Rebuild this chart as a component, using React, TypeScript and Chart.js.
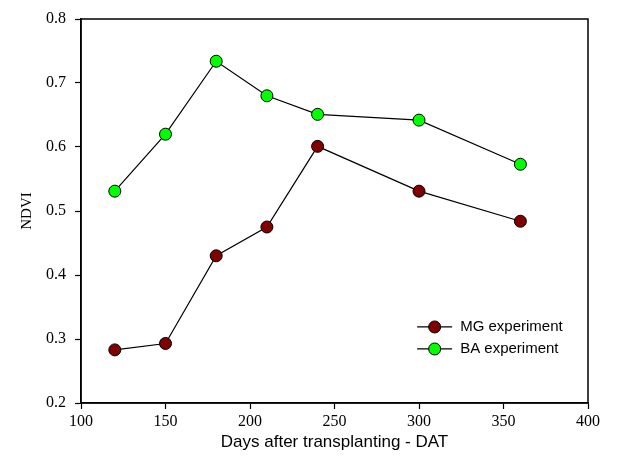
import React, { useEffect, useRef } from "react";
import { Chart, registerables } from "chart.js";

Chart.register(...registerables);

const days = [120, 150, 180, 210, 240, 300, 360];
const mgValues = [0.283, 0.293, 0.43, 0.475, 0.601, 0.531, 0.484];
const baValues = [0.531, 0.62, 0.734, 0.68, 0.651, 0.642, 0.573];
const seriesLabels = ["MG experiment", "BA experiment"];
const xTitle = "Days after transplanting - DAT";
const yTitle = "NDVI";

const frameLegendPlugin = {
  id: "frameLegend",
  afterDatasetsDraw(chart: any) {
    const { ctx, chartArea } = chart;
    ctx.save();
    ctx.strokeStyle = "#000";
    ctx.lineWidth = 1.5;
    ctx.strokeRect(chartArea.left, chartArea.top, chartArea.right - chartArea.left, chartArea.bottom - chartArea.top);
    // legend
    const lx = chartArea.left + (chartArea.right - chartArea.left) * 0.663;
    const ly = chartArea.top + (chartArea.bottom - chartArea.top) * 0.802;
    chart.data.datasets.forEach((ds: any, i: number) => {
      const y = ly + i * 22;
      ctx.strokeStyle = "#000";
      ctx.lineWidth = 1.2;
      ctx.beginPath();
      ctx.moveTo(lx, y);
      ctx.lineTo(lx + 35, y);
      ctx.stroke();
      ctx.beginPath();
      ctx.arc(lx + 17.5, y, 6, 0, Math.PI * 2);
      ctx.fillStyle = ds.pointBackgroundColor;
      ctx.fill();
      ctx.lineWidth = 1;
      ctx.stroke();
      ctx.fillStyle = "#000";
      ctx.font = "15px 'Liberation Sans', Arial, sans-serif";
      ctx.textBaseline = "middle";
      ctx.textAlign = "left";
      ctx.fillText(ds.label, lx + 43, y);
    });
    ctx.restore();
  },
};

export default function App() {
  const ref = useRef<HTMLCanvasElement>(null);
  useEffect(() => {
    if (!ref.current) return;
    const tickFont = { family: "'Liberation Serif', 'Times New Roman', serif", size: 16 };
    const chart = new Chart(ref.current, {
      type: "line",
      data: {
        datasets: [
          {
            label: seriesLabels[0],
            data: days.map((d, i) => ({ x: d, y: mgValues[i] })),
            borderColor: "#000",
            borderWidth: 1.2,
            pointBackgroundColor: "#800000",
            pointBorderColor: "#000",
            pointBorderWidth: 1,
            pointRadius: 6,
            tension: 0,
          },
          {
            label: seriesLabels[1],
            data: days.map((d, i) => ({ x: d, y: baValues[i] })),
            borderColor: "#000",
            borderWidth: 1.2,
            pointBackgroundColor: "#00ff00",
            pointBorderColor: "#000",
            pointBorderWidth: 1,
            pointRadius: 6,
            tension: 0,
          },
        ],
      },
      options: {
        animation: false,
        responsive: false,
        layout: { padding: { top: 19, right: 44, left: 0, bottom: 0 } },
        plugins: { legend: { display: false }, tooltip: { enabled: false } },
        scales: {
          x: {
            type: "linear",
            min: 100,
            max: 400,
            ticks: { stepSize: 50, color: "#000", font: tickFont, padding: 3 },
            grid: { drawOnChartArea: false, tickLength: 6, color: "#000", tickWidth: 1.2 },
            border: { color: "#000", width: 1.5 },
            title: {
              display: true,
              text: xTitle,
              color: "#000",
              font: { family: "'Liberation Sans', Arial, sans-serif", size: 17 },
              padding: { top: 4, bottom: 13 },
            },
            afterFit(scale: any) {
              scale.height = 466 - 403;
            },
          },
          y: {
            min: 0.2,
            max: 0.8,
            ticks: {
              stepSize: 0.1,
              color: "#000",
              font: tickFont,
              padding: 9,
              callback: (v: any) => Number(v).toFixed(1),
            },
            grid: { drawOnChartArea: false, tickLength: 6, color: "#000", tickWidth: 1.2 },
            border: { color: "#000", width: 1.5 },
            title: {
              display: true,
              text: yTitle,
              color: "#000",
              font: { family: "'Liberation Serif', 'Times New Roman', serif", size: 15 },
              padding: { top: 18, bottom: 0 },
            },
            afterFit(scale: any) {
              scale.width = 81;
            },
          },
        },
      },
      plugins: [frameLegendPlugin],
    });
    return () => chart.destroy();
  }, []);
  return (
    <div style={{ position: "absolute", left: 0, top: 0, width: 632, height: 466, background: "#fff" }}>
      <canvas ref={ref} width={632} height={466} style={{ width: 632, height: 466 }} />
    </div>
  );
}
